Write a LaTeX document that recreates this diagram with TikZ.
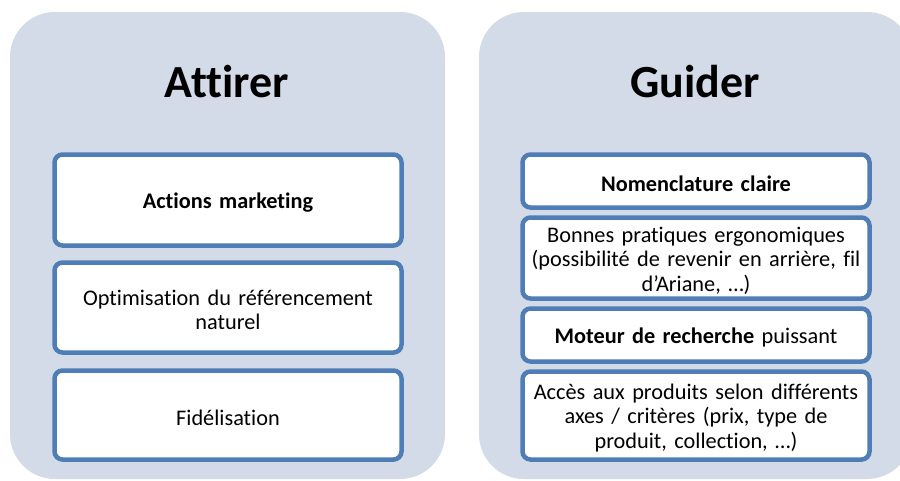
\documentclass[tikz,border=0pt]{standalone}
\usepackage{fontspec}
\setmainfont{Carlito}[Ligatures={NoCommon}]
\usetikzlibrary{shadows}
\definecolor{panelfill}{HTML}{D3DAE8}
\definecolor{boxline}{HTML}{4F7DB5}
\begin{document}
\begin{tikzpicture}[x=1pt,y=-1pt,
  panel/.style={fill=panelfill, draw=none, rounded corners=45pt},
  itembox/.style={draw=boxline, line width=4.5pt, fill=white, rounded corners=8pt,
    minimum width=347pt, inner sep=0pt,
    drop shadow={opacity=0.3, shadow xshift=1pt, shadow yshift=-2pt}},
  itemtext/.style={align=center, text width=335pt, inner sep=0pt, yshift=-2.5pt,
    font=\fontsize{22.3}{24.5}\selectfont},
  title/.style={font=\fontsize{46}{56}\selectfont\bfseries, anchor=base}]
\useasboundingbox (0,0) rectangle (900,480);
\fill[white] (0,0) rectangle (900,480);
% panels
\path[panel] (10,12) rectangle (445,479);
\path[panel] (479,12) rectangle (912,479);
% titles
\node[title] (t1) at (227,97) {Attirer};
\node[title] (t2) at (695,97) {Guider};
% left boxes
\node[itembox, minimum height=91pt, label={[itemtext]center:{\textbf{Actions marketing}}}] (a1) at (228,200) {};
\node[itembox, minimum height=90pt, label={[itemtext]center:{Optimisation du référencement\\naturel}}] (a2) at (228,307.5) {};
\node[itembox, minimum height=89pt, label={[itemtext]center:{Fidélisation}}] (a3) at (228,415) {};
% right boxes
\node[itembox, minimum height=53pt, label={[itemtext]center:{\textbf{Nomenclature claire}}}] (g1) at (696,181) {};
\node[itembox, minimum height=81pt, label={[itemtext]center:{Bonnes pratiques ergonomiques\\(possibilité de revenir en arrière, fil\\d’Ariane, …)}}] (g2) at (696,258) {};
\node[itembox, minimum height=53pt, label={[itemtext]center:{\textbf{Moteur de recherche} puissant}}] (g3) at (696,335) {};
\node[itembox, minimum height=88pt, label={[itemtext]center:{Accès aux produits selon différents\\axes / critères (prix, type de\\produit, collection, …)}}] (g4) at (696,415.5) {};
\end{tikzpicture}
\end{document}
